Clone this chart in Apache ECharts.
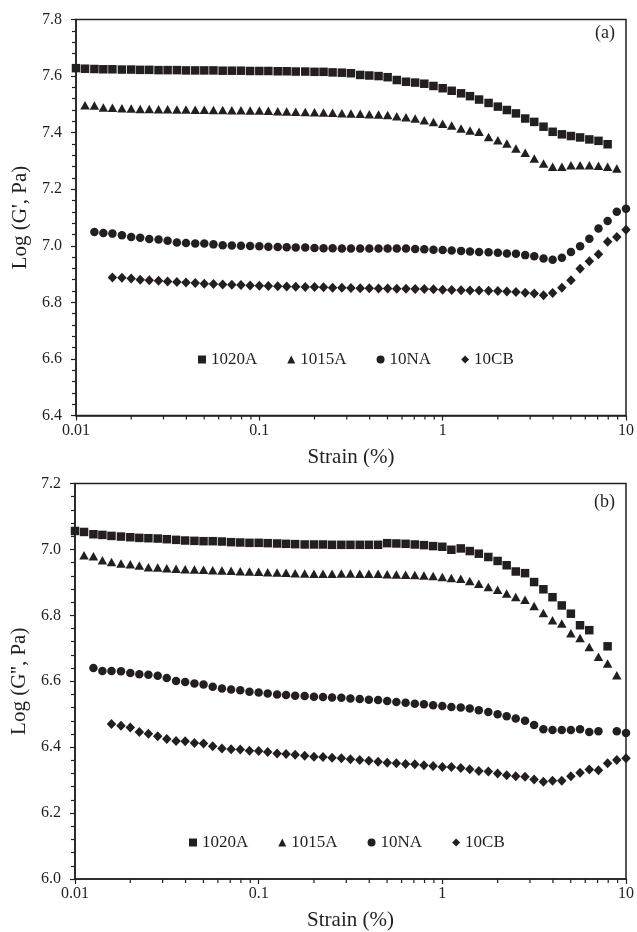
<!DOCTYPE html>
<html>
<head>
<meta charset="utf-8">
<script src="https://cdn.jsdelivr.net/npm/echarts@6.0.0/dist/echarts.min.js"></script>
<style>
html, body { margin: 0; padding: 0; background: #fff; }
#main { width: 637px; height: 932px; }
</style>
</head>
<body>
<div id="main"></div>
<script>
// strain sweep (%), shared by all series
var strain = [
  0.01, 0.0112, 0.0126, 0.0141, 0.0158, 0.0178, 0.02, 0.0224, 0.0251, 0.0282,
  0.0316, 0.0355, 0.0398, 0.0447, 0.0501, 0.0562, 0.0631, 0.0708, 0.0794, 0.0891,
  0.1, 0.112, 0.126, 0.141, 0.158, 0.178, 0.2, 0.224, 0.251, 0.282,
  0.316, 0.355, 0.398, 0.447, 0.501, 0.562, 0.631, 0.708, 0.794, 0.891,
  1, 1.12, 1.26, 1.41, 1.58, 1.78, 2, 2.24, 2.51, 2.82,
  3.16, 3.55, 3.98, 4.47, 5.01, 5.62, 6.31, 7.08, 7.94, 8.91, 10
];
var minorStrain = [0.02, 0.03, 0.04, 0.05, 0.06, 0.07, 0.08, 0.09,
  0.2, 0.3, 0.4, 0.5, 0.6, 0.7, 0.8, 0.9,
  2, 3, 4, 5, 6, 7, 8, 9];

var names = ['1020A', '1015A', '10NA', '10CB'];

// (a) Log G'
var gp1020A = [
  7.628, 7.626, 7.625, 7.624, 7.624, 7.623, 7.623, 7.622, 7.622, 7.621,
  7.621, 7.621, 7.620, 7.620, 7.620, 7.620, 7.619, 7.619, 7.619, 7.618,
  7.618, 7.618, 7.617, 7.617, 7.616, 7.616, 7.615, 7.615, 7.613, 7.612,
  7.610, 7.604, 7.602, 7.600, 7.596, 7.586, 7.580, 7.577, 7.573, 7.565,
  7.557, 7.548, 7.539, 7.529, 7.517, 7.505, 7.492, 7.480, 7.468, 7.450,
  7.438, 7.421, 7.403, 7.394, 7.388, 7.383, 7.376, 7.371, 7.359, null, null
];
var gp1015A = [
  null, 7.497, 7.496, 7.489, 7.488, 7.486, 7.485, 7.484, 7.484, 7.483,
  7.483, 7.482, 7.482, 7.481, 7.481, 7.480, 7.480, 7.479, 7.479, 7.478,
  7.478, 7.477, 7.476, 7.475, 7.474, 7.473, 7.472, 7.471, 7.470, 7.469,
  7.468, 7.467, 7.465, 7.464, 7.462, 7.458, 7.454, 7.450, 7.444, 7.438,
  7.431, 7.425, 7.415, 7.408, 7.403, 7.385, 7.373, 7.362, 7.344, 7.329,
  7.309, 7.291, 7.279, 7.279, 7.285, 7.285, 7.285, 7.283, 7.279, 7.273, null
];
var gp10NA = [
  null, null, 7.049, 7.045, 7.043, 7.037, 7.031, 7.028, 7.024, 7.022,
  7.018, 7.012, 7.010, 7.008, 7.008, 7.005, 7.002, 7.001, 7.000, 6.999,
  6.998, 6.997, 6.996, 6.995, 6.994, 6.994, 6.992, 6.991, 6.991, 6.990,
  6.990, 6.990, 6.990, 6.990, 6.990, 6.990, 6.990, 6.989, 6.988, 6.986,
  6.985, 6.983, 6.982, 6.980, 6.978, 6.977, 6.975, 6.973, 6.972, 6.967,
  6.963, 6.955, 6.951, 6.958, 6.978, 6.998, 7.025, 7.061, 7.088, 7.120, 7.131
];
var gp10CB = [
  null, null, null, null, 6.888, 6.887, 6.884, 6.880, 6.878, 6.876,
  6.874, 6.872, 6.870, 6.868, 6.866, 6.865, 6.863, 6.862, 6.861, 6.860,
  6.859, 6.858, 6.857, 6.856, 6.855, 6.854, 6.854, 6.853, 6.852, 6.852,
  6.851, 6.850, 6.850, 6.849, 6.849, 6.848, 6.848, 6.847, 6.847, 6.846,
  6.845, 6.844, 6.843, 6.842, 6.842, 6.841, 6.840, 6.838, 6.837, 6.834,
  6.831, 6.825, 6.833, 6.852, 6.878, 6.919, 6.945, 6.970, 7.014, 7.031, 7.057
];

// (b) Log G''
var gpp1020A = [
  7.056, 7.053, 7.046, 7.044, 7.041, 7.039, 7.037, 7.035, 7.034, 7.033,
  7.031, 7.029, 7.027, 7.026, 7.025, 7.025, 7.024, 7.022, 7.021, 7.020,
  7.020, 7.019, 7.018, 7.017, 7.016, 7.015, 7.015, 7.015, 7.014, 7.014,
  7.014, 7.014, 7.014, 7.014, 7.019, 7.018, 7.017, 7.015, 7.013, 7.010,
  7.008, 6.999, 7.003, 6.995, 6.987, 6.977, 6.965, 6.952, 6.933, 6.928,
  6.901, 6.879, 6.855, 6.830, 6.805, 6.770, 6.755, null, 6.706, null, null
];
var gpp1015A = [
  null, 6.982, 6.979, 6.967, 6.962, 6.957, 6.955, 6.951, 6.946, 6.945,
  6.943, 6.941, 6.940, 6.939, 6.938, 6.937, 6.936, 6.935, 6.934, 6.933,
  6.932, 6.931, 6.930, 6.929, 6.928, 6.927, 6.926, 6.926, 6.926, 6.927,
  6.927, 6.926, 6.926, 6.926, 6.925, 6.924, 6.923, 6.922, 6.921, 6.919,
  6.916, 6.913, 6.911, 6.904, 6.896, 6.886, 6.878, 6.866, 6.856, 6.847,
  6.828, 6.807, 6.785, 6.775, 6.746, 6.731, 6.704, 6.674, 6.654, 6.618, null
];
var gpp10NA = [
  null, null, 6.640, 6.631, 6.631, 6.630, 6.625, 6.621, 6.620, 6.617,
  6.610, 6.601, 6.598, 6.593, 6.590, 6.583, 6.578, 6.575, 6.573, 6.568,
  6.566, 6.563, 6.560, 6.558, 6.556, 6.555, 6.553, 6.552, 6.551, 6.550,
  6.548, 6.546, 6.544, 6.543, 6.540, 6.537, 6.535, 6.532, 6.530, 6.527,
  6.525, 6.522, 6.520, 6.517, 6.512, 6.507, 6.500, 6.494, 6.487, 6.480,
  6.467, 6.454, 6.452, 6.452, 6.452, 6.454, 6.446, 6.448, null, 6.448, 6.443
];
var gpp10CB = [
  null, null, null, null, 6.470, 6.465, 6.460, 6.446, 6.441, 6.433,
  6.425, 6.419, 6.418, 6.413, 6.411, 6.403, 6.396, 6.394, 6.393, 6.389,
  6.388, 6.385, 6.381, 6.379, 6.377, 6.374, 6.371, 6.370, 6.368, 6.366,
  6.363, 6.361, 6.359, 6.356, 6.353, 6.351, 6.349, 6.348, 6.345, 6.343,
  6.340, 6.340, 6.337, 6.333, 6.328, 6.326, 6.320, 6.315, 6.312, 6.310,
  6.302, 6.295, 6.298, 6.298, 6.312, 6.322, 6.332, 6.330, 6.351, 6.361, 6.366
];

var INK = '#231f20';
var FONT = 'Liberation Serif';
var symbols = ['rect', 'triangle', 'circle', 'diamond'];
var sizes = [[8.5, 8.5], [9.5, 8.5], 8.5, [9.5, 10]];

function pairs(vals) {
  return strain.map(function (s, i) { return [s, vals[i]]; })
    .filter(function (p) { return p[1] !== null; });
}

function scatter(k, vals, panel) {
  return {
    name: names[k],
    type: 'scatter',
    xAxisIndex: panel,
    yAxisIndex: panel,
    symbol: symbols[k],
    symbolSize: sizes[k],
    itemStyle: { color: INK, opacity: 1 },
    silent: true,
    data: pairs(vals)
  };
}

// log-axis minor ticks (2..9 of each decade), drawn on the axis scale
function minorTicks(panel, yMin) {
  return {
    type: 'custom',
    xAxisIndex: panel,
    yAxisIndex: panel,
    silent: true,
    clip: false,
    data: minorStrain.map(function (s) { return [s, yMin]; }),
    renderItem: function (params, api) {
      var p = api.coord([api.value(0), api.value(1)]);
      return {
        type: 'line',
        shape: { x1: p[0], y1: p[1], x2: p[0], y2: p[1] + 4 },
        style: { stroke: INK, lineWidth: 1.2 }
      };
    }
  };
}

function xAxis(panel) {
  return {
    type: 'log',
    logBase: 10,
    gridIndex: panel,
    min: 0.01,
    max: 10,
    name: 'Strain (%)',
    nameLocation: 'middle',
    nameGap: 31,
    nameTextStyle: { fontFamily: FONT, fontSize: 21, color: INK },
    axisLine: { lineStyle: { color: INK, width: 1.5 } },
    axisTick: { length: 5, lineStyle: { color: INK, width: 1.2 } },
    axisLabel: {
      margin: 7, fontFamily: FONT, fontSize: 16, color: INK,
      formatter: function (v) { return String(+v.toPrecision(2)); }
    },
    splitLine: { show: false }
  };
}

function yAxis(panel, min, max, title) {
  return {
    type: 'value',
    gridIndex: panel,
    min: min,
    max: max,
    interval: 0.2,
    name: title,
    nameLocation: 'middle',
    nameGap: 43,
    nameTextStyle: { fontFamily: FONT, fontSize: 21, color: INK },
    axisLine: { show: true, lineStyle: { color: INK, width: 1.5 } },
    axisTick: { show: true, length: 5, lineStyle: { color: INK, width: 1.2 } },
    minorTick: { show: true, splitNumber: 5, length: 4, lineStyle: { color: INK, width: 1.2 } },
    axisLabel: {
      margin: 14, fontFamily: FONT, fontSize: 16, color: INK,
      formatter: function (v) { return v.toFixed(1); }
    },
    splitLine: { show: false }
  };
}

function legend(left, top) {
  return {
    left: left,
    top: top,
    itemWidth: 8,
    itemHeight: 8,
    itemGap: 30,
    selectedMode: false,
    textStyle: { fontFamily: FONT, fontSize: 17, color: INK },
    data: names.map(function (n, k) { return { name: n, icon: symbols[k] }; })
  };
}

var chart = echarts.init(document.getElementById('main'), null, { renderer: 'canvas' });

var option = {
  animation: false,
  backgroundColor: '#fff',
  title: [
    { text: '(a)', right: 22, top: 24, padding: 0,
      textStyle: { fontFamily: FONT, fontSize: 18, fontWeight: 'normal', color: INK } },
    { text: '(b)', right: 22, top: 493, padding: 0,
      textStyle: { fontFamily: FONT, fontSize: 18, fontWeight: 'normal', color: INK } }
  ],
  legend: [legend(193, 346), legend(184, 829)],
  grid: [
    { left: 76, top: 19.5, width: 551, height: 396, show: true, borderColor: INK, borderWidth: 1.5 },
    { left: 75, top: 483.5, width: 551, height: 395.5, show: true, borderColor: INK, borderWidth: 1.5 }
  ],
  xAxis: [xAxis(0), xAxis(1)],
  yAxis: [yAxis(0, 6.4, 7.8, "Log (G', Pa)"), yAxis(1, 6.0, 7.2, "Log (G'', Pa)")],
  series: [
    scatter(0, gp1020A, 0),
    scatter(1, gp1015A, 0),
    scatter(2, gp10NA, 0),
    scatter(3, gp10CB, 0),
    scatter(0, gpp1020A, 1),
    scatter(1, gpp1015A, 1),
    scatter(2, gpp10NA, 1),
    scatter(3, gpp10CB, 1),
    minorTicks(0, 6.4),
    minorTicks(1, 6.0)
  ]
};

chart.setOption(option);
</script>
</body>
</html>
